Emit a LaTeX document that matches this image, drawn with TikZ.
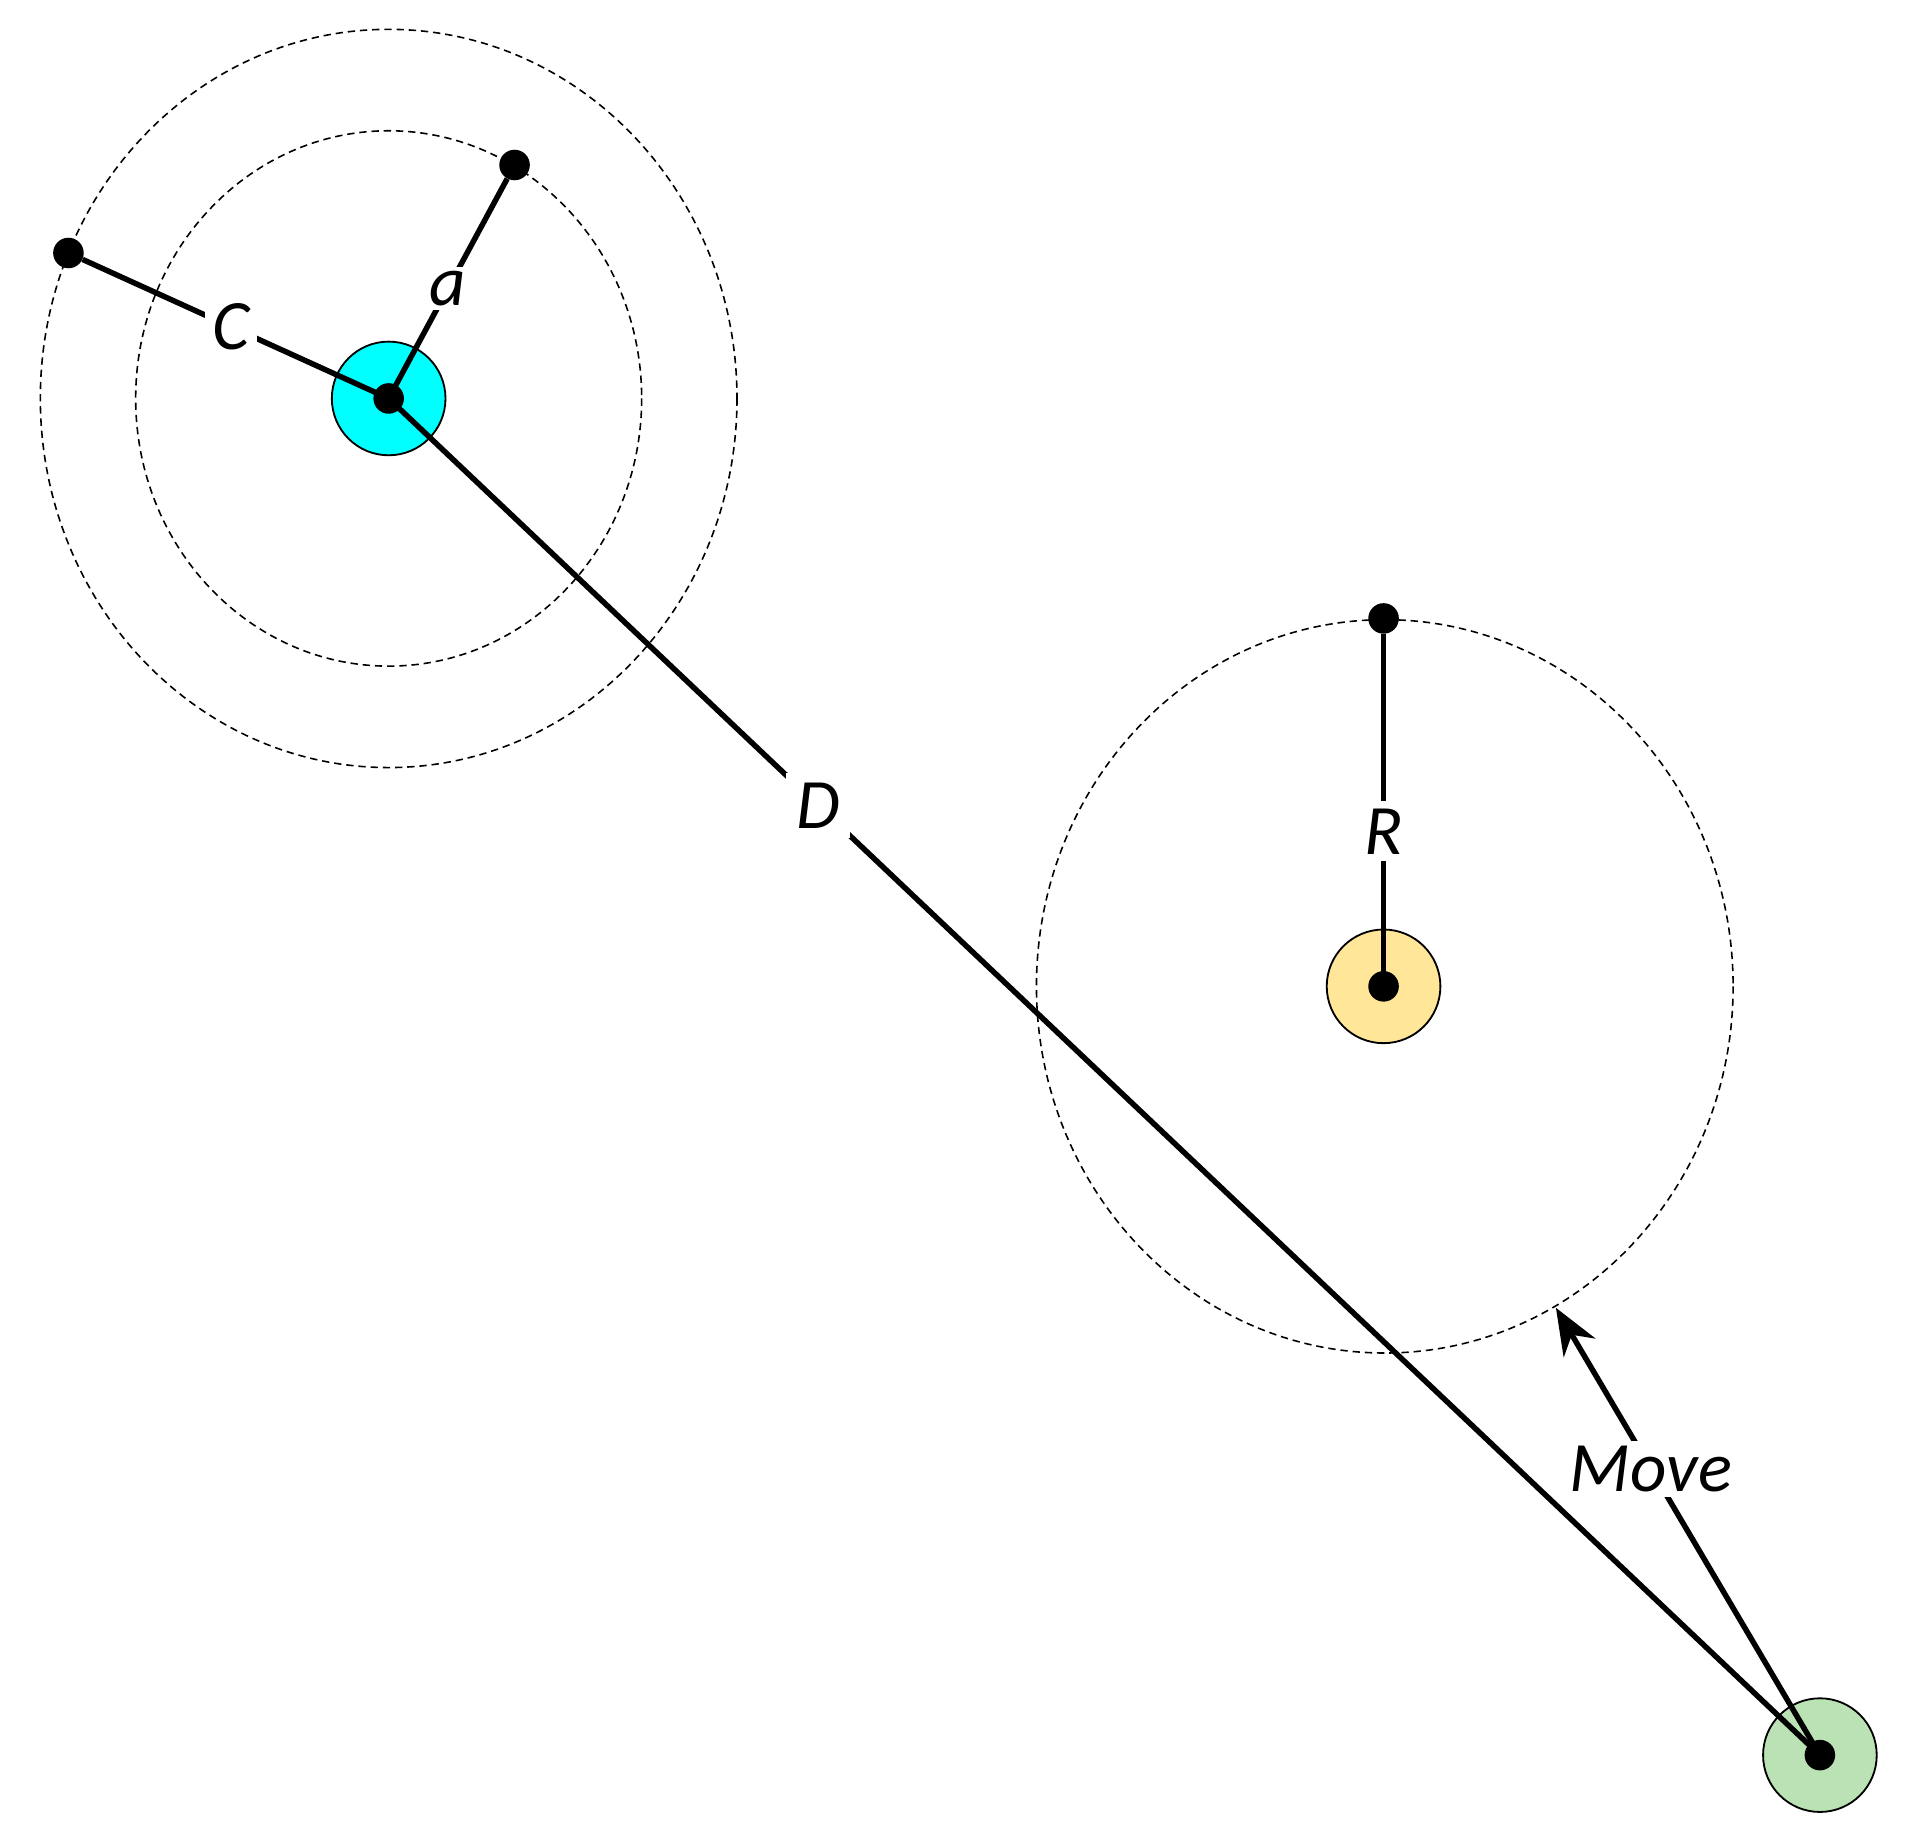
\documentclass[tikz,border=0pt]{standalone}
\usepackage{fontspec}
\setmainfont{Carlito}
\usetikzlibrary{arrows.meta}
\begin{document}
\begin{tikzpicture}[x=1pt,y=-1pt,
  ln/.style={line width=4.5pt},
  dsh/.style={line width=1.3pt,dash pattern=on 6pt off 4pt},
  lab/.style={fill=white,inner sep=6pt,font=\fontsize{58}{58}\selectfont\itshape},
  dot/.style={circle,fill=black,inner sep=0pt,minimum size=25pt},
  disc/.style={circle,draw=black,line width=1.5pt,minimum size=93pt,inner sep=0pt}]
\useasboundingbox (0,0) rectangle (1566,1512);
\draw[dsh] (318,326) ellipse [x radius=285, y radius=302];
\draw[dsh] (318,326) ellipse [x radius=207, y radius=219];
\draw[dsh] (1133,807) ellipse [x radius=285, y radius=300];
\node[disc,fill={rgb,255:red,0;green,255;blue,255}] (A) at (318,326) {};
\node[disc,fill={rgb,255:red,255;green,230;blue,153}] (O) at (1132,807) {};
\node[disc,fill={rgb,255:red,187;green,226;blue,180}] (G) at (1489,1436) {};
\coordinate (Ac) at (318,326);
\coordinate (Oc) at (1132,807);
\coordinate (Gc) at (1489,1436);
\node[dot] (pa) at (421,135) {};
\node[dot] (pc) at (56,207) {};
\node[dot] (pr) at (1132,506) {};
\coordinate (mv) at (1273,1070);
\draw[ln] (Ac) -- (pa) node[lab,pos=0.5,inner sep=3pt] {a};
\draw[ln] (Ac) -- (pc) node[lab,pos=0.515] {C};
\draw[ln] (Ac) -- (Gc) node[lab,pos=0.3,inner sep=8pt] {D};
\draw[ln] (Oc) -- (pr) node[lab,pos=0.44] {R};
\draw[ln,-{Stealth[length=38pt,width=30pt]}] (Gc) -- (mv) node[lab,pos=0.64,inner sep=4pt] {Move};
\node[dot] at (Ac) {};
\node[dot] at (Oc) {};
\node[dot] at (Gc) {};
\end{tikzpicture}
\end{document}
